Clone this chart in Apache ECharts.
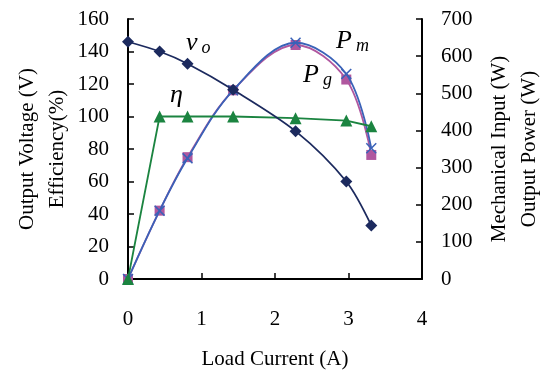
<!DOCTYPE html>
<html><head><meta charset="utf-8">
<script src="https://cdn.jsdelivr.net/npm/echarts@6/dist/echarts.min.js"></script>
<style>html,body{margin:0;padding:0;background:#fff}#c{width:547px;height:376px}</style>
</head><body><div id="c"></div>
<script>
var current = [0, 0.43, 0.81, 1.43, 2.28, 2.97, 3.31];
var voltage = [146, 140, 132.5, 116.5, 91, 60, 33];
var efficiency = [0, 100, 100, 100, 99, 97.5, 94];
var mechInput = [0, 184, 325, 508, 636, 552, 352];
var outPower = [0, 184, 328, 508, 630, 537, 334];
var xTicks = [0, 1, 2, 3, 4];
var leftTicks = [0, 20, 40, 60, 80, 100, 120, 140, 160];
var rightTicks = [0, 100, 200, 300, 400, 500, 600, 700];

function pairs(xs, ys){ return xs.map(function(x,i){return [x, ys[i]];}); }
var FONT = '"Liberation Serif", "Times New Roman", serif';
var crossPath = 'path://M0,1 L1,0 L5,4 L9,0 L10,1 L6,5 L10,9 L9,10 L5,6 L1,10 L0,9 L4,5 Z';

var chart = echarts.init(document.getElementById('c'));
var axisCommon = {
  nameMoveOverlap: false,
  axisLine: {show: true, onZero: false, lineStyle: {color: '#000', width: 2}},
  axisTick: {show: true, inside: true, length: 6, lineStyle: {color: '#000', width: 1.5}},
  splitLine: {show: false},
  axisLabel: {color: '#000', fontFamily: FONT, fontSize: 21, margin: 19},
  nameTextStyle: {color: '#000', fontFamily: FONT, fontSize: 21, lineHeight: 30}
};
chart.setOption({
  animation: false,
  backgroundColor: '#fff',
  grid: {left: 128, right: 125, top: 19, bottom: 97, containLabel: false, outerBoundsMode: 'none'},
  xAxis: Object.assign({}, axisCommon, {
    type: 'value', min: 0, max: 4, interval: 1,
    name: 'Load Current (A)', nameLocation: 'middle', nameGap: 65,
    axisLabel: Object.assign({}, axisCommon.axisLabel, {margin: 30, formatter: function(v){return xTicks.indexOf(v) >= 0 ? String(v) : '';}})
  }),
  yAxis: [
    Object.assign({}, axisCommon, {
      type: 'value', min: 0, max: 160, interval: 20, position: 'left',
      name: 'Output Voltage (V)\nEfficiency(%)', nameLocation: 'middle', nameRotate: 90, nameGap: 56,
      axisLabel: Object.assign({}, axisCommon.axisLabel, {formatter: function(v){return leftTicks.indexOf(v) >= 0 ? String(v) : '';}})
    }),
    Object.assign({}, axisCommon, {
      type: 'value', min: 0, max: 700, interval: 100, position: 'right',
      name: 'Mechanical Input (W)\nOutput Power (W)', nameLocation: 'middle', nameRotate: 90, nameGap: 62,
      axisLabel: Object.assign({}, axisCommon.axisLabel, {formatter: function(v){return rightTicks.indexOf(v) >= 0 ? String(v) : '';}})
    })
  ],
  series: [
    {type: 'line', name: 'Pm', yAxisIndex: 1, data: pairs(current, mechInput), smooth: 0.35,
     symbol: crossPath, symbolSize: 11, itemStyle: {color: '#3a62b8'}, lineStyle: {color: '#3a62b8', width: 1.8}, z: 3},
    {type: 'line', name: 'Pg', yAxisIndex: 1, data: pairs(current, outPower), smooth: 0.35,
     symbol: 'rect', symbolSize: 10, itemStyle: {color: '#b0579f'}, lineStyle: {color: '#b0579f', width: 1.8}, z: 2},
    {type: 'line', name: 'eta', yAxisIndex: 0, data: pairs(current, efficiency), smooth: false,
     symbol: 'triangle', symbolSize: 12, itemStyle: {color: '#1b8440'}, lineStyle: {color: '#1b8440', width: 1.8}, z: 4},
    {type: 'line', name: 'vo', yAxisIndex: 0, data: pairs(current, voltage), smooth: 0.3,
     symbol: 'diamond', symbolSize: 12, itemStyle: {color: '#1c2a5e'}, lineStyle: {color: '#1c2a5e', width: 1.8}, z: 5}
  ],
  graphic: [
    {type: 'text', left: 186, top: 30, style: {text: '{a|v}{b|o}', rich: {a: {fontFamily: FONT, fontStyle: 'italic', fontSize: 26, fill: '#000'}, b: {fontFamily: FONT, fontStyle: 'italic', fontSize: 18, fill: '#000', padding: [10,0,0,4]}}}},
    {type: 'text', left: 170, top: 82, style: {text: 'η', fontFamily: FONT, fontStyle: 'italic', fontSize: 26, fill: '#000'}},
    {type: 'text', left: 336, top: 28, style: {text: '{a|P}{b|m}', rich: {a: {fontFamily: FONT, fontStyle: 'italic', fontSize: 26, fill: '#000'}, b: {fontFamily: FONT, fontStyle: 'italic', fontSize: 18, fill: '#000', padding: [10,0,0,4]}}}},
    {type: 'text', left: 303, top: 62, style: {text: '{a|P}{b|g}', rich: {a: {fontFamily: FONT, fontStyle: 'italic', fontSize: 26, fill: '#000'}, b: {fontFamily: FONT, fontStyle: 'italic', fontSize: 18, fill: '#000', padding: [10,0,0,4]}}}}
  ]
});
</script></body></html>
